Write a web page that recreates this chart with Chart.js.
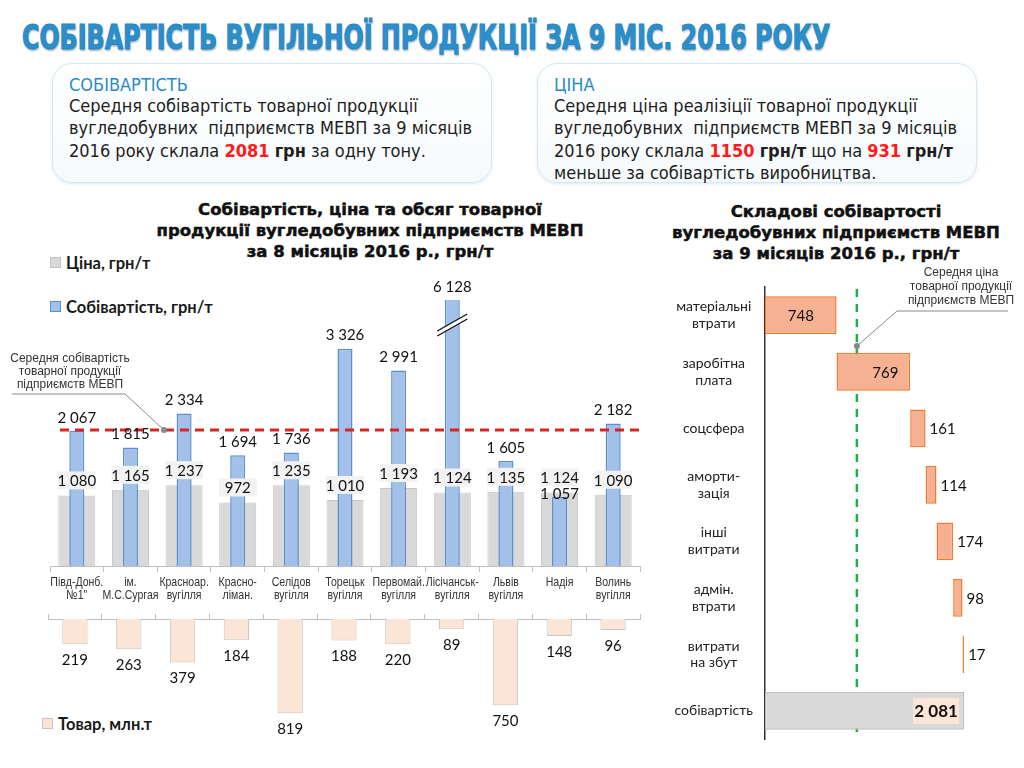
<!DOCTYPE html>
<html lang="uk">
<head>
<meta charset="utf-8">
<script src="https://cdn.jsdelivr.net/npm/chart.js@4.4.0/dist/chart.umd.min.js"></script>
<style>
  html, body { margin: 0; padding: 0; background: #fff; }
  body { width: 1024px; height: 768px; position: relative; overflow: hidden; font-family: "Liberation Sans", Arial, sans-serif; color: #222; }
  .abs { position: absolute; }
  #pageTitle {
    left: 22px; top: 18px; white-space: nowrap; transform-origin: 0 0;
    font-family: "DejaVu Sans Condensed", sans-serif;
    font-weight: bold; font-size: 33px; color: #2a8fcb; -webkit-text-stroke: 1px #2586c2;
    text-shadow: 1px 2px 2px rgba(0, 40, 80, 0.35);
  }
  .box {
    top: 63px; width: 440px; height: 120px; box-sizing: border-box;
    border: 1.5px solid #d3e8f2; border-radius: 20px;
    background: linear-gradient(#ffffff, #f6fafc);
    box-shadow: 0 1px 3px rgba(120, 170, 200, 0.25);
    font-family: "DejaVu Sans Condensed", sans-serif;
    font-size: 18px; line-height: 22.3px; padding: 11px 0 0 16px; color: #1e1e1e;
  }
  .box h3 { margin: 0; font-size: 18px; font-weight: normal; color: #2b8bbf; line-height: 20px; }
  .red { color: #ff1a1a; font-weight: bold; }
  .chartTitle {
    font-family: "DejaVu Sans", sans-serif; font-weight: bold; font-size: 16.5px;
    line-height: 21px; text-align: center; color: #111; -webkit-text-stroke: 0.5px #111;
  }
  .legend { font-family: Lato, sans-serif; font-weight: bold; font-size: 16.5px; color: #1a1a1a; white-space: nowrap; }
  .legend i { display: inline-block; width: 9px; height: 9px; margin-right: 5px; vertical-align: 1px; }
  canvas { position: absolute; }
</style>
</head>
<body>
<div id="pageTitle" class="abs">СОБІВАРТІСТЬ ВУГІЛЬНОЇ ПРОДУКЦІЇ ЗА 9 МІС. 2016 РОКУ</div>

<div class="abs box" style="left:52px;">
  <h3>СОБІВАРТІСТЬ</h3>
  Середня собівартість товарної продукції<br>
  вугледобувних&nbsp; підприємств МЕВП за 9 місяців<br>
  2016 року склала <span class="red">2081</span> <b>грн</b> за одну тону.
</div>
<div class="abs box" style="left:537px;">
  <h3>ЦІНА</h3>
  Середня ціна реалізіції товарної продукції<br>
  вугледобувних&nbsp; підприємств МЕВП за 9 місяців<br>
  2016 року склала <span class="red">1150</span> <b>грн/т</b> що на <span class="red">931</span> <b>грн/т</b><br>
  меньше за собівартість виробництва.
</div>

<div class="abs chartTitle" style="left:140px; top:199px; width:460px;">Собівартість, ціна та обсяг товарної<br>продукції вугледобувних підприємств МЕВП<br>за 8 місяців 2016 р., грн/т</div>
<div class="abs chartTitle" style="left:650px; top:201px; width:372px;">Складові собівартості<br>вугледобувних підприємств МЕВП<br>за 9 місяців 2016 р., грн/т</div>

<div class="abs legend" style="left:50px; top:253px;"><i style="background:#d9d9d9;border:1px solid #c4c4c4"></i>Ціна, грн/т</div>
<div class="abs legend" style="left:50px; top:297px;"><i style="background:#a3c1e8;border:1px solid #5b8fd0"></i>Собівартість, грн/т</div>
<div class="abs legend" style="left:42px; top:714px;"><i style="background:#fbe5d6;border:1px solid #cfc2b8"></i>Товар, млн.т</div>

<canvas id="mainChart" width="645" height="340" style="left:0; top:270px;"></canvas>
<canvas id="outputChart" width="645" height="135" style="left:0; top:609px;"></canvas>
<canvas id="partsChart" width="369" height="505" style="left:655px; top:255px;"></canvas>

<script>
const companies = [
  ["Півд-Донб.", "№1\""], ["ім.", "М.С.Сургая"], ["Красноар.", "вугілля"], ["Красно-", "ліман."],
  ["Селідов", "вугілля"], ["Торецьк", "вугілля"], ["Первомай.", "вугілля"], ["Лісічанськ-", "вугілля"],
  ["Львів", "вугілля"], ["Надія"], ["Волинь", "вугілля"]
];
const price = [1080, 1165, 1237, 972, 1235, 1010, 1193, 1124, 1135, 1124, 1090];
const cost = [2067, 1815, 2334, 1694, 1736, 3326, 2991, 6128, 1605, 1057, 2182];
const output = [219, 263, 379, 184, 819, 188, 220, 89, 750, 148, 96];
const avgCost = 2081;

const costParts = [
  ["матеріальні", "втрати"], ["заробітна", "плата"], ["соцсфера"], ["аморти-", "зація"],
  ["інші", "витрати"], ["адмін.", "втрати"], ["витрати", "на збут"], ["собівартість"]
];
const partValues = [748, 769, 161, 114, 174, 98, 17];
const totalCost = 2081;
const priceMarker = 960;

const fmt = (v) => String(v).replace(/\B(?=(\d{3})+(?!\d))/g, " ");
const numFont = "15px Lato, sans-serif";

// fit the page title to the width it has in the original
(function () {
  const t = document.getElementById("pageTitle");
  t.style.transform = "scaleX(" + (808 / t.offsetWidth) + ")";
})();

const mainLabels = {
  id: "mainLabels",
  afterDraw(chart) {
    // category names, narrowed like the original's condensed face
    const ctx = chart.ctx, x = chart.scales.x;
    ctx.save();
    ctx.font = "13.5px \"Liberation Sans\", sans-serif";
    ctx.fillStyle = "#333";
    ctx.textAlign = "center";
    ctx.textBaseline = "middle";
    companies.forEach((lines, i) => {
      const cx = x.getPixelForTick(i);
      lines.forEach((s, k) => {
        ctx.save();
        ctx.translate(cx, x.top + 16 + k * 13);
        ctx.scale(0.78, 1);
        ctx.fillText(s, 0, 0);
        ctx.restore();
      });
    });
    ctx.restore();
  },
  afterDatasetsDraw(chart) {
    const ctx = chart.ctx, area = chart.chartArea, y = chart.scales.y;
    const costMeta = chart.getDatasetMeta(0), priceMeta = chart.getDatasetMeta(1);
    const ay = y.getPixelForValue(avgCost);
    ctx.save();

    // average cost line
    ctx.strokeStyle = "#d42626";
    ctx.lineWidth = 3;
    ctx.setLineDash([9, 6]);
    ctx.beginPath();
    ctx.moveTo(area.left + 10, ay);
    ctx.lineTo(area.right, ay);
    ctx.stroke();
    ctx.setLineDash([]);

    // break marks on bars taller than the axis
    costMeta.data.forEach((bar, i) => {
      if (cost[i] <= y.max) return;
      const yb = area.top + 26, w = 15;
      ctx.fillStyle = "#fff";
      ctx.beginPath();
      ctx.moveTo(bar.x - w, yb + 10);
      ctx.lineTo(bar.x + w, yb - 7);
      ctx.lineTo(bar.x + w, yb - 12);
      ctx.lineTo(bar.x - w, yb + 5);
      ctx.closePath();
      ctx.fill();
      ctx.strokeStyle = "#111";
      ctx.lineWidth = 1.3;
      ctx.beginPath();
      ctx.moveTo(bar.x - w, yb + 10); ctx.lineTo(bar.x + w, yb - 7);
      ctx.moveTo(bar.x - w, yb + 5); ctx.lineTo(bar.x + w, yb - 12);
      ctx.stroke();
    });

    ctx.font = numFont;
    ctx.textAlign = "center";
    ctx.textBaseline = "middle";
    priceMeta.data.forEach((bar, i) => {
      const ly = bar.y - 15;
      const bw = bar.width + 1;
      ctx.fillStyle = "#f2f2f2";
      ctx.fillRect(bar.x - bw / 2, ly - 9, bw, 18);
      ctx.fillStyle = "#111";
      ctx.fillText(fmt(price[i]), bar.x, ly + 1);

      const cb = costMeta.data[i];
      const top = Math.max(cb.y, area.top);
      const cy = cost[i] < price[i] ? ly + 17 : top - 13;
      ctx.fillText(fmt(cost[i]), cb.x, cy);
    });

    // callout for the average line
    ctx.fillStyle = "#333";
    ctx.font = "12px \"Liberation Sans\", sans-serif";
    ["Середня собівартість", "товарної продукції", "підприємств МЕВП"].forEach((s, k) => {
      ctx.fillText(s, 70, 89 + k * 13);
    });
    ctx.strokeStyle = "#8a8a8a";
    ctx.lineWidth = 1;
    ctx.beginPath();
    ctx.moveTo(12, 124);
    ctx.lineTo(125, 124);
    ctx.lineTo(164, ay);
    ctx.stroke();
    ctx.fillStyle = "#8a8a8a";
    ctx.beginPath();
    ctx.arc(164, ay, 3, 0, Math.PI * 2);
    ctx.fill();
    ctx.restore();
  }
};

new Chart(document.getElementById("mainChart"), {
  type: "bar",
  data: {
    labels: companies,
    datasets: [
      {
        label: "Собівартість, грн/т",
        data: cost,
        backgroundColor: "#a3c1e8",
        borderColor: "#5b8fd0",
        borderWidth: 1.5,
        barPercentage: 0.28,
        categoryPercentage: 1,
        grouped: false,
        order: 0,
      },
      {
        label: "Ціна, грн/т",
        data: price,
        backgroundColor: "#d9d9d9",
        borderColor: "#c6c6c6",
        borderWidth: 1,
        barPercentage: 0.69,
        categoryPercentage: 1,
        grouped: false,
        order: 1,
      },
    ],
  },
  options: {
    responsive: false,
    animation: false,
    layout: { padding: { top: 30, left: 50, right: 5, bottom: 0 } },
    plugins: { legend: { display: false }, tooltip: { enabled: false } },
    scales: {
      x: {
        grid: { offset: true, drawOnChartArea: false, tickLength: 6, color: "#bfbfbf" },
        border: { color: "#bfbfbf" },
        ticks: { display: false },
        afterFit: (s) => { s.height = 44; },
      },
      y: { display: false, min: 0, max: 4070 },
    },
  },
  plugins: [mainLabels],
});

const outputLabels = {
  id: "outputLabels",
  afterDatasetsDraw(chart) {
    const ctx = chart.ctx;
    ctx.save();
    ctx.font = numFont;
    ctx.fillStyle = "#111";
    ctx.textAlign = "center";
    ctx.textBaseline = "middle";
    chart.getDatasetMeta(0).data.forEach((bar, i) => {
      ctx.fillText(fmt(output[i]), bar.x, bar.y + 16);
    });
    ctx.restore();
  }
};

new Chart(document.getElementById("outputChart"), {
  type: "bar",
  data: {
    labels: companies,
    datasets: [{
      label: "Товар, млн.т",
      data: output,
      backgroundColor: "#fbe5d6",
      borderColor: "#cfc5be",
      borderWidth: 1,
      barPercentage: 0.47,
      categoryPercentage: 1,
    }],
  },
  options: {
    responsive: false,
    animation: false,
    layout: { padding: { top: 5, left: 48, right: 5, bottom: 15 } },
    plugins: { legend: { display: false }, tooltip: { enabled: false } },
    scales: {
      x: {
        position: "top",
        grid: { offset: true, drawOnChartArea: false, tickLength: 5, color: "#bfbfbf" },
        border: { color: "#bfbfbf" },
        ticks: { display: false },
        afterFit: (s) => { s.height = 5; },
      },
      y: { display: false, reverse: true, min: 0, max: 957 },
    },
  },
  plugins: [outputLabels],
});

// waterfall ranges built from the component values
let run = 0;
const ranges = partValues.map((v) => { const r = [run, run + v]; run += v; return r; });
ranges.push([0, totalCost]);
const partLabelValues = partValues.concat([totalCost]);

const partsDeco = {
  id: "partsDeco",
  beforeDatasetsDraw(chart) {
    const ctx = chart.ctx, area = chart.chartArea;
    const px = chart.scales.x.getPixelForValue(priceMarker);
    ctx.save();
    ctx.strokeStyle = "#1fae48";
    ctx.lineWidth = 2.5;
    ctx.setLineDash([8, 7]);
    ctx.beginPath();
    ctx.moveTo(px, area.top + 2);
    ctx.lineTo(px, area.bottom - 3);
    ctx.stroke();
    ctx.setLineDash([]);

    ctx.fillStyle = "#333";
    ctx.font = "12px \"Liberation Sans\", sans-serif";
    ctx.textAlign = "center";
    ctx.textBaseline = "middle";
    ["Середня ціна", "товарної продукції", "підприємств МЕВП"].forEach((s, k) => {
      ctx.fillText(s, 306, 18 + k * 14);
    });
    ctx.strokeStyle = "#8a8a8a";
    ctx.lineWidth = 1;
    ctx.beginPath();
    ctx.moveTo(353, 56);
    ctx.lineTo(242, 56);
    ctx.lineTo(px, 91);
    ctx.stroke();
    ctx.restore();
  },
  afterDatasetsDraw(chart) {
    const ctx = chart.ctx;
    const px = chart.scales.x.getPixelForValue(priceMarker);
    ctx.save();
    ctx.fillStyle = "#8a8a8a";
    ctx.beginPath();
    ctx.arc(px, 91, 3, 0, Math.PI * 2);
    ctx.fill();

    ctx.textBaseline = "middle";
    const last = partLabelValues.length - 1;
    chart.getDatasetMeta(0).data.forEach((bar, i) => {
      const txt = fmt(partLabelValues[i]);
      if (i === last) {
        ctx.fillStyle = "#fbe5d6";
        ctx.fillRect(bar.x - 51, bar.y - 13, 46, 26);
        ctx.font = "bold 17px Lato, sans-serif";
        ctx.fillStyle = "#111";
        ctx.textAlign = "center";
        ctx.fillText(txt, bar.x - 28, bar.y + 1);
      } else if (i < 2) {
        ctx.font = numFont;
        ctx.fillStyle = "#111";
        ctx.textAlign = "center";
        ctx.fillText(txt, (bar.x + bar.base) / 2 + (i === 1 ? 12 : 0), bar.y + 1);
      } else {
        ctx.font = numFont;
        ctx.fillStyle = "#111";
        ctx.textAlign = "left";
        ctx.fillText(txt, bar.x + 4, bar.y + 1);
      }
    });
    ctx.restore();
  }
};

new Chart(document.getElementById("partsChart"), {
  type: "bar",
  data: {
    labels: costParts,
    datasets: [{
      label: "Складові собівартості",
      data: ranges,
      backgroundColor: ranges.map((r, i) => (i === ranges.length - 1 ? "#d9d9d9" : "#f6b092")),
      borderColor: ranges.map((r, i) => (i === ranges.length - 1 ? "#bdbdbd" : "#ed7d31")),
      borderWidth: 1.5,
      borderSkipped: false,
      barPercentage: 0.67,
      categoryPercentage: 1,
    }],
  },
  options: {
    indexAxis: "y",
    responsive: false,
    animation: false,
    layout: { padding: { top: 32, left: 0, right: 14, bottom: 15 } },
    plugins: { legend: { display: false }, tooltip: { enabled: false } },
    scales: {
      x: { display: false, min: 0, max: 2560 },
      y: {
        grid: { display: false },
        border: { display: true, color: "#333", width: 1.5 },
        ticks: { font: { family: "Lato, sans-serif", size: 14 }, color: "#222", crossAlign: "center", padding: 4 },
        afterFit: (s) => { s.width = 110; },
      },
    },
  },
  plugins: [partsDeco],
});
</script>
</body>
</html>
